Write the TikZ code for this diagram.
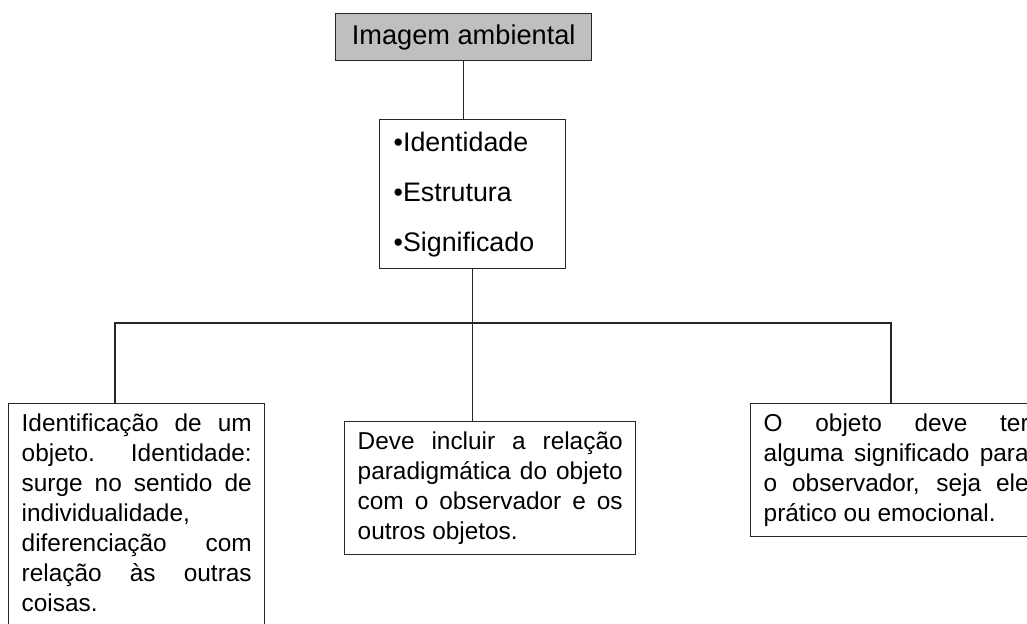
\documentclass[tikz,border=0pt]{standalone}
\usepackage{fontspec}
\setmainfont{Liberation Sans}
\usetikzlibrary{arrows}

\begin{document}
\begin{tikzpicture}[x=0.5pt,y=-0.5pt,
linha/.style={line width=0.7pt,color=black!85},
caixa/.style={draw=black!85,line width=0.7pt,anchor=north west,align=justify,inner xsep=6.5pt,inner ysep=5pt,font=\fontsize{12.2}{15}\selectfont},
titulo/.style={draw=black!85,fill=black!25,line width=0.7pt,anchor=north west,minimum width=128pt,minimum height=23.5pt,inner sep=0pt,font=\fontsize{13.6}{15}\selectfont}]

\useasboundingbox (0,0) rectangle (1027,623);
\clip (0,0) rectangle (1027,623);

\node[titulo] (imagem) at (335,13) {Imagem ambiental};
\node[caixa,align=left,text width=79pt,inner xsep=7pt,inner ysep=6pt,font=\fontsize{13.4}{25}\selectfont] (itens) at (379,119)
{\textbullet Identidade\\ \textbullet Estrutura\\ \textbullet Significado};

\node[caixa,text width=115pt] (identidade) at (8,403)
{Identificação de um\linebreak objeto. Identidade:\linebreak surge no sentido de\linebreak individualidade,\linebreak diferenciação com\linebreak relação às outras\linebreak coisas.\rule[-10pt]{0pt}{0pt}};
\node[caixa,text width=132.5pt] (estrutura) at (344,421)
{Deve incluir a relação\linebreak paradigmática do objeto\linebreak com o observador e os\linebreak outros objetos.};
\node[caixa,text width=132.5pt] (significado) at (750,403)
{O objeto deve ter\linebreak alguma significado para\linebreak o observador, seja ele\linebreak prático ou emocional.};

\coordinate (esq) at (115,323);
\coordinate (dir) at (891,323);

\draw[linha] (imagem.south) -- (imagem.south |- itens.north);
\draw[linha] (itens.south) -- (itens.south |- estrutura.north);
\draw[linha] (identidade.north -| esq) -- (esq) -- (dir) -- (significado.north -| dir);
\end{tikzpicture}
\end{document}
